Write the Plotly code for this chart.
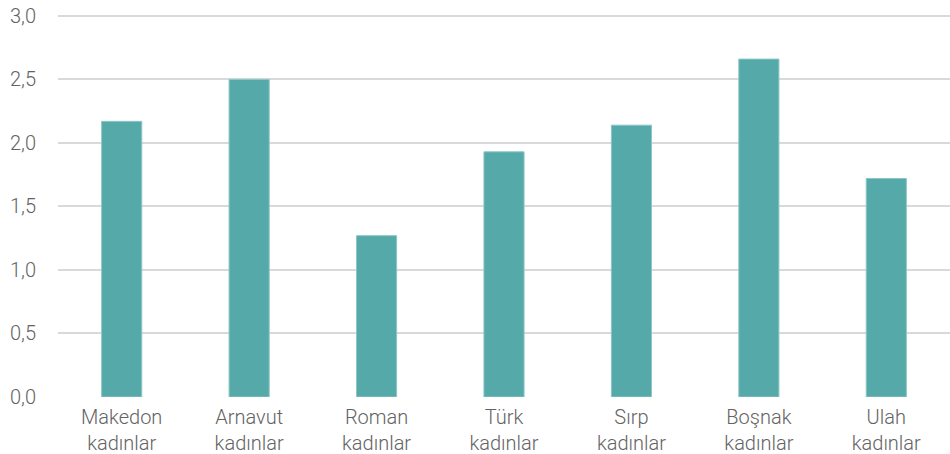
import plotly.graph_objects as go

categories = ["Makedon<br>kadınlar", "Arnavut<br>kadınlar", "Roman<br>kadınlar",
              "Türk<br>kadınlar", "Sırp<br>kadınlar", "Boşnak<br>kadınlar", "Ulah<br>kadınlar"]
values = [2.17, 2.50, 1.27, 1.93, 2.14, 2.66, 1.72]
tick_vals = [0, 0.5, 1.0, 1.5, 2.0, 2.5, 3.0]
tick_text = ["0,0", "0,5", "1,0", "1,5", "2,0", "2,5", "3,0"]

fig = go.Figure(go.Bar(
    x=categories,
    y=values,
    marker=dict(color="#56A9A9", line=dict(color="#8CC7C6", width=1)),
))

fig.update_layout(
    width=950, height=454,
    margin=dict(l=58, r=0, t=14, b=57),
    plot_bgcolor="white", paper_bgcolor="white",
    bargap=0.685,
    showlegend=False,
    font=dict(family="Roboto", size=20, color="#636363", weight=300),
    xaxis=dict(showgrid=False, showline=False, ticks="", automargin=False,
               ticklabelstandoff=6, tickfont=dict(size=20)),
    yaxis=dict(range=[0, 3.015], tickvals=tick_vals, ticktext=tick_text,
               showgrid=True, gridcolor="#D9D9D9", gridwidth=1.5,
               zeroline=False, showline=False, ticklabelstandoff=21,
               automargin=False, tickfont=dict(size=20)),
)

# drop the default 8px body margin of the page
fig.write_html("out.html", config={"displayModeBar": False},
               post_script="document.body.style.margin='0';")
